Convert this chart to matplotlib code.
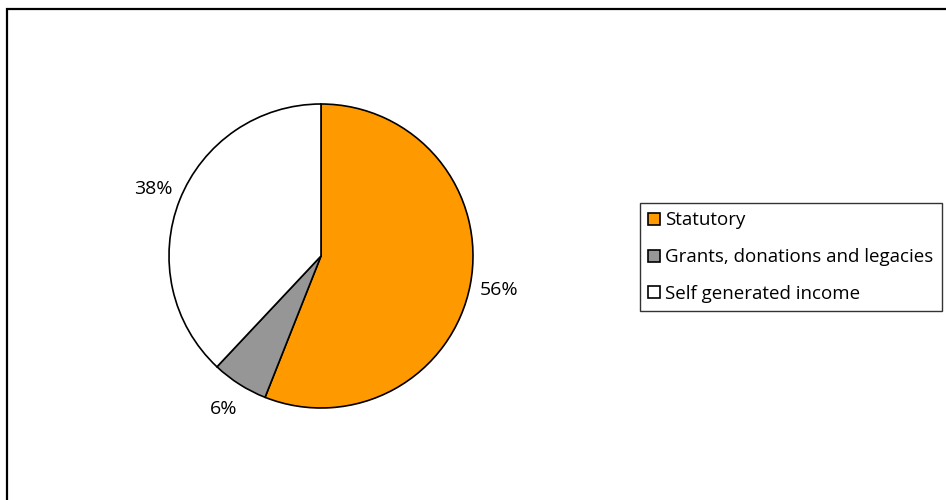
import matplotlib

matplotlib.use("Agg")

import matplotlib.pyplot as plt
from matplotlib.patches import Patch, Rectangle

categories = ["Statutory", "Grants, donations and legacies", "Self generated income"]
shares = [56, 6, 38]
colors = ["#ff9900", "#969696", "#ffffff"]

plt.rcParams["font.family"] = ["Open Sans", "DejaVu Sans"]

W, H = 946, 500
fig = plt.figure(figsize=(W / 100, H / 100), dpi=100)

# outer frame, runs off the right and bottom edges like the reference
fig.patches.append(Rectangle((7 / W, -0.1), 1.2, 1 - 8.5 / H + 0.1,
                             transform=fig.transFigure, fill=False,
                             edgecolor="black", linewidth=1.6))

cx, cy, r = 321, 256, 152
ax = fig.add_axes([(cx - r) / W, (H - cy - r) / H, 2 * r / W, 2 * r / H])
ax.pie(shares, colors=colors, startangle=90, counterclock=False,
       autopct="%1.0f%%", pctdistance=1.19,
       wedgeprops={"edgecolor": "black", "linewidth": 1.2},
       textprops={"fontsize": 14})
ax.set_xlim(-1, 1)
ax.set_ylim(-1, 1)
ax.set_aspect("auto")
ax.axis("off")

handles = [Patch(facecolor=c, edgecolor="black", linewidth=1.2) for c in colors]
leg = fig.legend(handles, categories, loc="upper left",
                 bbox_to_anchor=(640 / W, 1 - 203 / H), borderaxespad=0,
                 fontsize=13.5, frameon=True, fancybox=False,
                 handlelength=0.6, handleheight=0.6, handletextpad=0.3,
                 labelspacing=1.0, borderpad=0.45)
leg.get_frame().set_edgecolor("black")
leg.get_frame().set_linewidth(1.0)

fig.savefig("out.png", dpi=100)
